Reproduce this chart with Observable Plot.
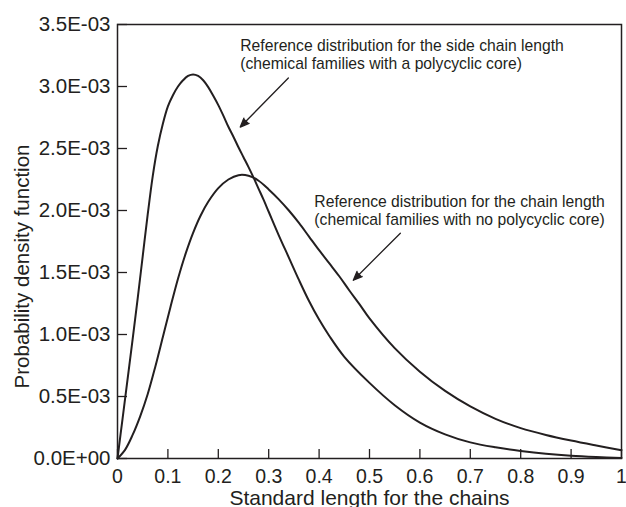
<!DOCTYPE html>
<html><head><meta charset="utf-8">
<script src="https://cdn.jsdelivr.net/npm/d3@7"></script>
<script src="https://cdn.jsdelivr.net/npm/@observablehq/plot@0.6"></script>
<style>
body{margin:0;background:#fff}
svg{display:block}
</style>
</head><body><div id="chart"></div>
<script>
// Reference distribution for the side chain length (polycyclic core), values in 1E-03
const sideX = [0, 0.01, 0.02, 0.03, 0.04, 0.05, 0.06, 0.07, 0.08, 0.09, 0.10, 0.11, 0.12, 0.13, 0.14, 0.15, 0.16, 0.17, 0.18, 0.19, 0.20, 0.21, 0.22, 0.23, 0.24, 0.25, 0.26, 0.27, 0.28, 0.29, 0.30, 0.32, 0.34, 0.36, 0.38, 0.40, 0.42, 0.45, 0.50, 0.55, 0.60, 0.65, 0.70, 0.75, 0.80, 0.85, 0.90, 0.95, 1.0];
const sideY = [0, 0.32, 0.64, 0.96, 1.29, 1.63, 1.97, 2.28, 2.52, 2.70, 2.84, 2.93, 3.00, 3.05, 3.085, 3.097, 3.085, 3.05, 2.995, 2.925, 2.85, 2.765, 2.675, 2.595, 2.51, 2.43, 2.35, 2.265, 2.175, 2.085, 1.99, 1.80, 1.62, 1.44, 1.27, 1.12, 0.99, 0.82, 0.61, 0.43, 0.29, 0.195, 0.13, 0.09, 0.061, 0.038, 0.022, 0.012, 0.005];
// Reference distribution for the chain length (no polycyclic core), values in 1E-03
const chainX = [0, 0.015, 0.03, 0.045, 0.06, 0.075, 0.09, 0.105, 0.12, 0.135, 0.15, 0.165, 0.18, 0.20, 0.22, 0.24, 0.26, 0.28, 0.30, 0.32, 0.34, 0.36, 0.38, 0.40, 0.42, 0.44, 0.46, 0.48, 0.50, 0.55, 0.60, 0.65, 0.70, 0.75, 0.80, 0.85, 0.90, 0.95, 1.0];
const chainY = [0, 0.07, 0.19, 0.34, 0.52, 0.74, 0.98, 1.22, 1.45, 1.65, 1.82, 1.96, 2.07, 2.18, 2.25, 2.285, 2.28, 2.24, 2.17, 2.09, 2.00, 1.90, 1.79, 1.68, 1.575, 1.47, 1.355, 1.245, 1.13, 0.89, 0.70, 0.545, 0.42, 0.32, 0.245, 0.19, 0.145, 0.105, 0.067];

const xTicks = [0, 0.1, 0.2, 0.3, 0.4, 0.5, 0.6, 0.7, 0.8, 0.9, 1];
const xTickLabels = ["0", "0.1", "0.2", "0.3", "0.4", "0.5", "0.6", "0.7", "0.8", "0.9", "1"];
const yTicks = [0, 0.5, 1.0, 1.5, 2.0, 2.5, 3.0, 3.5];
const yTickLabels = ["0.0E+00", "0.5E-03", "1.0E-03", "1.5E-03", "2.0E-03", "2.5E-03", "3.0E-03", "3.5E-03"];
const xLabel = "Standard length for the chains";
const yLabel = "Probability density function";
const annotationSide = ["Reference distribution for the side chain length", "(chemical families with a polycyclic core)"];
const annotationChain = ["Reference distribution for the chain length", "(chemical families with no polycyclic core)"];

const sideData = sideX.map((x, i) => ({x, y: sideY[i]}));
const chainData = chainX.map((x, i) => ({x, y: chainY[i]}));

const ink = "#231f20";
const font = "'Liberation Sans', Arial, Helvetica, sans-serif";

// annotation placements in data coordinates
const annSide = [{t: annotationSide[0], x: 0.2436, y: 3.29}, {t: annotationSide[1], x: 0.2436, y: 3.145}];
const annChain = [{t: annotationChain[0], x: 0.3906, y: 2.031}, {t: annotationChain[1], x: 0.3906, y: 1.886}];
const arrows = [
  {x1: 0.339, y1: 3.069, x2: 0.2436, y2: 2.673},
  {x1: 0.5612, y1: 1.817, x2: 0.4679, y2: 1.438}
];

const chart = Plot.plot({
  width: 626,
  height: 507,
  marginTop: 24,
  marginRight: 5,
  marginBottom: 49,
  marginLeft: 117,
  style: {fontFamily: font, color: ink, background: "#fff"},
  x: {domain: [0, 1]},
  y: {domain: [0, 3.5]},
  marks: [
    Plot.axisX({ticks: xTicks, tickFormat: d => xTickLabels[xTicks.indexOf(d)], tickSize: -9, tickPadding: 20, fontSize: 19.5, label: null, stroke: ink, strokeWidth: 1.3}),
    Plot.axisY({ticks: yTicks, tickFormat: d => yTickLabels[yTicks.indexOf(d)], tickSize: -10, tickPadding: 17, fontSize: 20.5, label: null, stroke: ink, strokeWidth: 1.3}),
    Plot.frame({stroke: ink, strokeWidth: 1.5}),
    Plot.line(sideData, {x: "x", y: "y", curve: "catmull-rom", stroke: ink, strokeWidth: 2}),
    Plot.line(chainData, {x: "x", y: "y", curve: "catmull-rom", stroke: ink, strokeWidth: 2}),
    Plot.arrow(arrows, {x1: "x1", y1: "y1", x2: "x2", y2: "y2", stroke: ink, fill: ink, strokeWidth: 1.3, headLength: 11, headAngle: 45}),
    Plot.text([...annSide, ...annChain], {x: "x", y: "y", text: "t", textAnchor: "start", lineAnchor: "bottom", fontSize: 15.7, fill: ink}),
    Plot.text([xLabel], {frameAnchor: "bottom", dy: 46, lineAnchor: "bottom", fontSize: 21, fill: ink}),
    Plot.text([yLabel], {frameAnchor: "left", textAnchor: "middle", rotate: -90, dx: -95, dy: 25, fontSize: 20.5, fill: ink})
  ]
});
document.getElementById("chart").appendChild(chart);
</script>
</body></html>
